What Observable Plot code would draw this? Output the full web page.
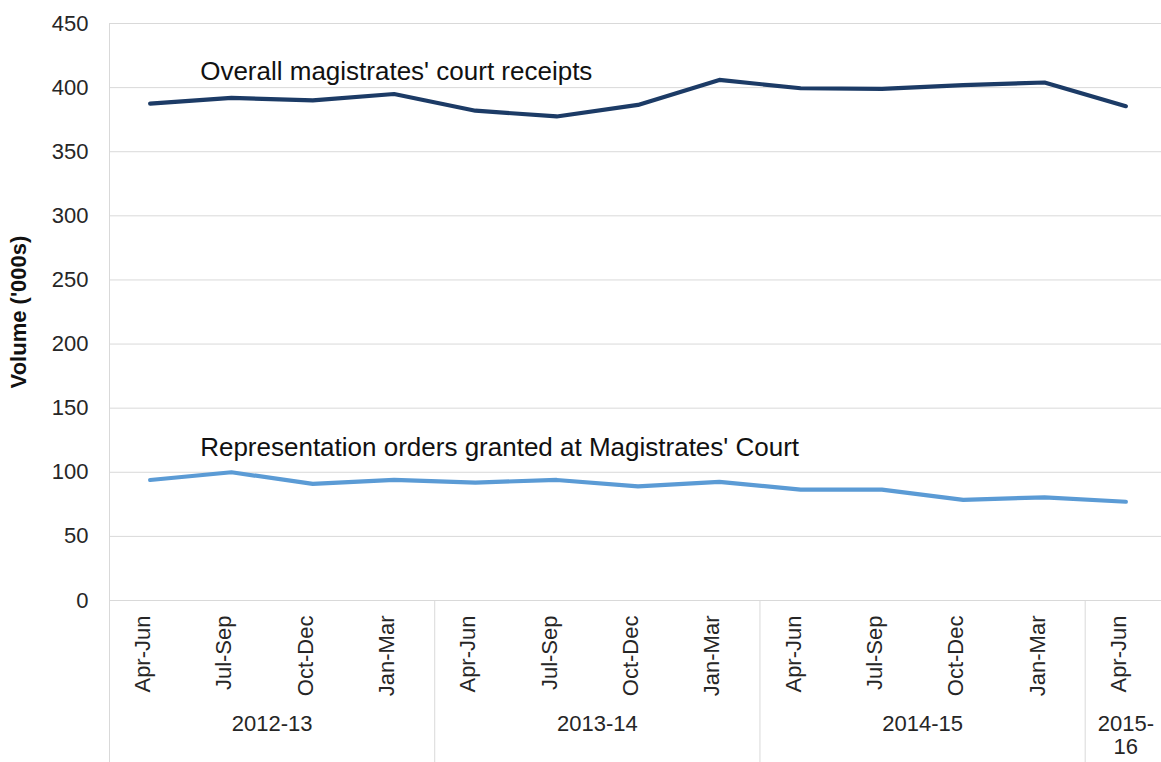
<!DOCTYPE html>
<html>
<head>
<meta charset="utf-8">
<script src="https://cdn.jsdelivr.net/npm/d3@7"></script>
<script src="https://cdn.jsdelivr.net/npm/@observablehq/plot@0.6"></script>
<style>
  html, body { margin: 0; padding: 0; background: #fff; overflow: hidden; }
  #chart svg { display: block; font-family: "Liberation Sans", Arial, sans-serif; }
</style>
</head>
<body>
<div id="chart"></div>
<script>
// ---- data ----
const quarters = ["Apr-Jun","Jul-Sep","Oct-Dec","Jan-Mar","Apr-Jun","Jul-Sep","Oct-Dec","Jan-Mar","Apr-Jun","Jul-Sep","Oct-Dec","Jan-Mar","Apr-Jun"];
const quarterYears = ["2012-13","2012-13","2012-13","2012-13","2013-14","2013-14","2013-14","2013-14","2014-15","2014-15","2014-15","2014-15","2015-16"];
const years = ["2012-13","2013-14","2014-15","2015-16"];
const yearLabels = ["2012-13","2013-14","2014-15","2015-\n16"];
const overallReceipts = [387.5, 392, 390, 395, 382, 377.5, 386.5, 406, 399.5, 399, 402, 404, 385.5];
const representationOrders = [94, 100, 91, 94, 92, 94, 89, 92.5, 86.5, 86.5, 78.5, 80.5, 77];
const seriesNames = ["Overall magistrates' court receipts", "Representation orders granted at Magistrates' Court"];
const seriesColors = ["#1c3b66", "#5b9bd5"];
const yTicks = [0, 50, 100, 150, 200, 250, 300, 350, 400, 450];
const yLabel = "Volume ('000s)";

// ---- derived tables ----
const idx = quarters.map((_, i) => i);
const rows = [];
[overallReceipts, representationOrders].forEach((vals, s) => {
  vals.forEach((v, i) => rows.push({series: seriesNames[s], i, v}));
});
const yearCenters = years.map((y, k) => {
  const ii = idx.filter(i => quarterYears[i] === y);
  return {label: yearLabels[k], x: d3.mean(ii)};
});
const boundaries = idx.filter(i => i > 0 && quarterYears[i] !== quarterYears[i - 1]).map(i => i - 0.5);
const labelRows = seriesNames.map((name, s) => ({name, i: 0, v: [overallReceipts, representationOrders][s][0]}));

const W = 1161, H = 762, mT = 23, mB = 162, mL = 109, mR = 0;
const frameH = H - mT - mB;
const textColor = "#262626";
const gridColor = "#d9d9d9";

const chart = Plot.plot({
  width: W,
  height: H,
  marginTop: mT,
  marginBottom: mB,
  marginLeft: mL,
  marginRight: mR,
  style: {background: "#fff", color: textColor},
  x: {type: "linear", domain: [-0.5, quarters.length - 0.5], range: [mL, 1166], axis: null},
  y: {domain: [0, 450], axis: null},
  color: {domain: seriesNames, range: seriesColors},
  marks: [
    Plot.ruleY(yTicks, {stroke: gridColor, strokeWidth: 1}),
    Plot.ruleX([-0.5], {stroke: gridColor, insetBottom: -mB}),
    Plot.ruleX(boundaries, {stroke: gridColor, insetTop: frameH, insetBottom: -mB}),
    Plot.axisY(yTicks, {tickSize: 0, tickPadding: 21, fontSize: 22, label: null, fill: textColor}),
    Plot.text([yLabel], {frameAnchor: "left", textAnchor: "middle", dx: -91, rotate: -90, fontWeight: "bold", fontSize: 22, fill: "#111"}),
    Plot.line(rows, {x: "i", y: "v", z: "series", stroke: "series", strokeWidth: 4.2, strokeLinejoin: "round", strokeLinecap: "round"}),
    Plot.text(labelRows, {x: "i", y: "v", text: "name", textAnchor: "start", dx: 50, dy: -32, fontSize: 26, fill: "#111"}),
    Plot.text(idx, {x: d => d, text: d => quarters[d], frameAnchor: "bottom", rotate: -90, textAnchor: "end", dy: 15, fontSize: 22, fill: textColor}),
    Plot.text(yearCenters, {x: "x", text: "label", frameAnchor: "bottom", lineAnchor: "top", dy: 114, lineHeight: 1.05, fontSize: 22, fill: textColor})
  ]
});
document.getElementById("chart").appendChild(chart);
</script>
</body>
</html>
